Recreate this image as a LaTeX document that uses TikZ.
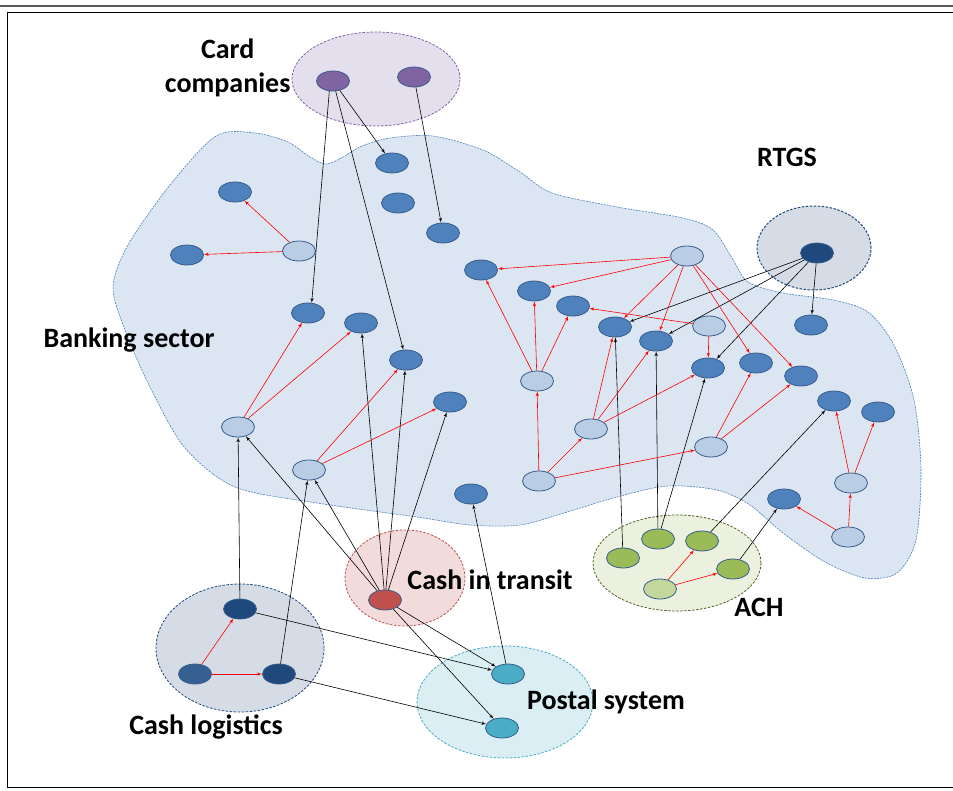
\documentclass[tikz,border=0pt]{standalone}
\usepackage{fontspec}
\setmainfont{Carlito}
\usepackage{tikz}
\usetikzlibrary{shapes,arrows}
\usetikzlibrary{positioning}
\definecolor{blobfill}{RGB}{220,230,242}
\definecolor{blobline}{RGB}{79,129,189}
\definecolor{nodedark}{RGB}{79,129,189}
\definecolor{nodepale}{RGB}{185,205,229}
\definecolor{nodeline}{RGB}{56,93,138}
\definecolor{cardfill}{RGB}{228,223,236}
\definecolor{cardline}{RGB}{128,100,162}
\definecolor{navyfill}{RGB}{214,220,229}
\definecolor{navyline}{RGB}{31,73,125}
\definecolor{navymid}{RGB}{55,96,146}
\definecolor{citfill}{RGB}{242,220,219}
\definecolor{citline}{RGB}{192,80,77}
\definecolor{achfill}{RGB}{235,241,222}
\definecolor{achline}{RGB}{79,98,40}
\definecolor{achnode}{RGB}{155,187,89}
\definecolor{achpale}{RGB}{195,214,155}
\definecolor{postfill}{RGB}{218,238,243}
\definecolor{postline}{RGB}{75,172,198}
\tikzset{auto,>=latex', x=1pt, y=-1pt, font=\bfseries\fontsize{28}{34}\selectfont}
\tikzstyle{bank} = [draw=nodeline, fill=nodedark, ellipse, minimum width=33pt, minimum height=20pt, inner sep=0pt, line width=0.8pt]
\tikzstyle{bankpale} = [bank, fill=nodepale]
\tikzstyle{group} = [ellipse, line width=0.8pt, dash pattern=on 2.5pt off 1.5pt, inner sep=0pt]
\tikzstyle{title} = [align=center, inner sep=0pt]
\tikzstyle{pay} = [->, draw=black, line width=0.6pt]
\tikzstyle{bill} = [->, draw=red, line width=0.6pt]

\begin{document}
\begin{tikzpicture}
    \useasboundingbox (0,0) rectangle (953,790);
    \draw [line width=2pt, black!65] (0,6) -- (953,6);
    \draw [line width=1pt] (7,12) -- (953,12);
    \draw [line width=1pt] (7,12) -- (7,787) -- (953,787);

    \draw [draw=blobline, fill=blobfill, line width=0.6pt, dash pattern=on 2pt off 1pt] plot [smooth cycle] coordinates {
        (216,136) (255,133) (288,142) (310,157) (326,164) (343,157) (362,146) (390,138) (433,136) (483,150)
        (520,172) (552,193) (617,207) (683,218) (713,230) (732,258) (748,282) (783,293)
        (833,300) (868,312) (894,345) (914,400) (921,470) (916,540) (897,573) (865,578)
        (825,562) (783,533) (750,505) (717,490) (667,486) (617,497) (567,512) (520,525)
        (470,525) (417,517) (317,503) (235,487) (185,448) (150,387) (125,330) (113,287)
        (128,245) (170,185)};

    \node [group, draw=cardline, fill=cardfill, minimum width=168pt, minimum height=94pt] (card) at (376,79) {};
    \node [group, draw=navyline, fill=navyfill, minimum width=114pt, minimum height=84pt, line width=1pt] (rtgs) at (814,248) {};
    \node [group, draw=navyline, fill=navyfill, minimum width=168pt, minimum height=128pt] (logist) at (240,648) {};
    \node [group, draw=citline, fill=citfill, minimum width=120pt, minimum height=96pt] (transit) at (405,578) {};
    \node [group, draw=achline, fill=achfill, minimum width=168pt, minimum height=96pt] (ach) at (677,563) {};
    \node [group, draw=postline, fill=postfill, minimum width=176pt, minimum height=112pt] (post) at (505,702) {};

    \node [title, left=1pt of card, yshift=11pt] (card_txt) {Card\\companies};
    \node [title] (rtgs_txt) at (787,157) {RTGS};
    \node [title] (bank_txt) at (129,340) {Banking sector};
    \node [title] (transit_txt) at (490,580) {Cash in transit};
    \node [title] (ach_txt) at (759,607) {ACH};
    \node [title] (post_txt) at (606,702) {Postal system};
    \node [title] (logist_txt) at (206,727) {Cash logistics};

    \node [bank, fill=cardline] (cc_1) at (333,81) {};
    \node [bank, fill=cardline] (cc_2) at (414,77) {};
    \node [bank, fill=navyline] (rtgs_1) at (817,253) {};
    \node [bank, fill=navyline] (cl_1) at (240,609) {};
    \node [bank, fill=navymid] (cl_2) at (195,674) {};
    \node [bank, fill=navyline] (cl_3) at (279,674) {};
    \node [bank, fill=citline] (cit_1) at (385,600) {};
    \node [bank, fill=achnode] (ach_1) at (623,558) {};
    \node [bank, fill=achnode] (ach_2) at (658,539) {};
    \node [bank, fill=achnode] (ach_3) at (702,541) {};
    \node [bank, fill=achnode] (ach_4) at (733,569) {};
    \node [bank, fill=achpale] (ach_5) at (660,589) {};
    \node [bank, fill=postline] (post_1) at (508,674) {};
    \node [bank, fill=postline] (post_2) at (502,728) {};

    \node [bank] (b_1) at (392,163) {};
    \node [bank] (b_2) at (235,192) {};
    \node [bank] (b_3) at (398,203) {};
    \node [bank] (b_4) at (443,233) {};
    \node [bank] (b_5) at (187,255) {};
    \node [bank] (b_6) at (481,270) {};
    \node [bank] (b_7) at (534,291) {};
    \node [bank] (b_8) at (573,306) {};
    \node [bank] (b_9) at (615,327) {};
    \node [bank] (b_10) at (656,341) {};
    \node [bank] (b_11) at (811,325) {};
    \node [bank] (b_12) at (308,313) {};
    \node [bank] (b_13) at (361,323) {};
    \node [bank] (b_14) at (406,360) {};
    \node [bank] (b_15) at (708,368) {};
    \node [bank] (b_16) at (756,363) {};
    \node [bank] (b_17) at (801,376) {};
    \node [bank] (b_18) at (450,402) {};
    \node [bank] (b_19) at (834,401) {};
    \node [bank] (b_20) at (878,412) {};
    \node [bank] (b_21) at (471,494) {};
    \node [bank] (b_22) at (784,499) {};
    \node [bankpale] (l_1) at (299,251) {};
    \node [bankpale] (l_2) at (687,256) {};
    \node [bankpale] (l_3) at (709,326) {};
    \node [bankpale] (l_4) at (537,381) {};
    \node [bankpale] (l_5) at (238,427) {};
    \node [bankpale] (l_6) at (591,429) {};
    \node [bankpale] (l_7) at (711,447) {};
    \node [bankpale] (l_8) at (309,470) {};
    \node [bankpale] (l_9) at (539,481) {};
    \node [bankpale] (l_10) at (851,483) {};
    \node [bankpale] (l_11) at (848,537) {};

    \draw [pay] (cc_1.250) -- (b_12.70);
    \draw [pay] (cc_1) -- (b_14);
    \draw [pay] (cc_1) -- (b_1);
    \draw [pay] (cc_2) -- (b_4);
    \draw [pay] (cit_1) -- (b_13);
    \draw [pay] (cit_1) -- (b_14);
    \draw [pay] (cit_1) -- (b_18);
    \draw [pay] (cit_1) -- (l_5);
    \draw [pay] (cit_1) -- (l_8);
    \draw [pay] (cit_1) -- (post_1);
    \draw [pay] (cit_1) -- (post_2);
    \draw [pay] (cl_1) -- (l_5);
    \draw [pay] (cl_3) -- (l_8);
    \draw [pay] (cl_1) -- (post_1);
    \draw [pay] (cl_3) -- (post_2);
    \draw [pay] (post_1) -- (b_21);
    \draw [pay] (rtgs_1) -- (b_9);
    \draw [pay] (rtgs_1) -- (b_10);
    \draw [pay] (rtgs_1) -- (b_15);
    \draw [pay] (rtgs_1) -- (b_11);
    \draw [pay] (ach_1) -- (b_9);
    \draw [pay] (ach_2) -- (b_10);
    \draw [pay] (ach_2) -- (b_15);
    \draw [pay] (ach_3) -- (b_19);
    \draw [pay] (ach_4) -- (b_22);

    \draw [bill] (l_1) -- (b_2);
    \draw [bill] (l_1) -- (b_5);
    \draw [bill] (l_5) -- (b_12);
    \draw [bill] (l_5) -- (b_13);
    \draw [bill] (l_8) -- (b_14);
    \draw [bill] (l_8) -- (b_18);
    \draw [bill] (l_2) -- (b_6);
    \draw [bill] (l_2) -- (b_7);
    \draw [bill] (l_2) -- (b_9);
    \draw [bill] (l_2) -- (b_10);
    \draw [bill] (l_2) -- (b_16);
    \draw [bill] (l_2) -- (b_17);
    \draw [bill] (l_3) -- (b_8);
    \draw [bill] (l_3) -- (b_15);
    \draw [bill] (l_4) -- (b_6);
    \draw [bill] (l_4) -- (b_7);
    \draw [bill] (l_4) -- (b_8);
    \draw [bill] (l_6) -- (b_9);
    \draw [bill] (l_6) -- (b_10);
    \draw [bill] (l_6) -- (b_15);
    \draw [bill] (l_9) -- (l_4);
    \draw [bill] (l_9) -- (l_6);
    \draw [bill] (l_9) -- (l_7);
    \draw [bill] (l_7) -- (b_16);
    \draw [bill] (l_7) -- (b_17);
    \draw [bill] (l_10) -- (b_19);
    \draw [bill] (l_10) -- (b_20);
    \draw [bill] (l_11) -- (l_10);
    \draw [bill] (l_11) -- (b_22);
    \draw [bill] (ach_5) -- (ach_3);
    \draw [bill] (ach_5) -- (ach_4);
    \draw [bill] (cl_2) -- (cl_1);
    \draw [bill] (cl_2) -- (cl_3);
\end{tikzpicture}
\end{document}
